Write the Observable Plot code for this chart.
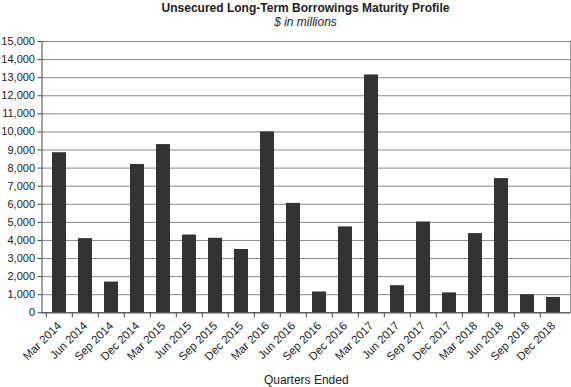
<!DOCTYPE html>
<html>
<head>
<meta charset="utf-8">
<script src="https://cdn.jsdelivr.net/npm/d3@7"></script>
<script src="https://cdn.jsdelivr.net/npm/@observablehq/plot@0.6"></script>
<style>
  html, body { margin: 0; padding: 0; background: #fff; }
  body { width: 571px; height: 387px; overflow: hidden; font-family: "Liberation Sans", Arial, sans-serif; color: #222; }
  #head { padding: 1px 1px 0 41px; text-align: center; height: 27px; }
  #title { font-weight: bold; font-size: 12px; line-height: 14px; }
  #subtitle { font-style: italic; font-size: 12px; line-height: 14px; }
</style>
</head>
<body>
<div id="head">
  <div id="title">Unsecured Long-Term Borrowings Maturity Profile</div>
  <div id="subtitle">$ in millions</div>
</div>
<div id="chart"></div>
<script>
const quarters = [
  "Mar 2014", "Jun 2014", "Sep 2014", "Dec 2014",
  "Mar 2015", "Jun 2015", "Sep 2015", "Dec 2015",
  "Mar 2016", "Jun 2016", "Sep 2016", "Dec 2016",
  "Mar 2017", "Jun 2017", "Sep 2017", "Dec 2017",
  "Mar 2018", "Jun 2018", "Sep 2018", "Dec 2018"
];
const amounts = [
  8850, 4100, 1700, 8200,
  9300, 4300, 4120, 3500,
  10000, 6050, 1150, 4750,
  13150, 1500, 5020, 1100,
  4380, 7420, 1000, 850
];
const yTicks = d3.range(0, 15001, 1000);
const xTitle = "Quarters Ended";

const data = quarters.map((q, i) => ({quarter: q, amount: amounts[i]}));

const W = 571, H = 359;
const mL = 41.5, mR = 1, mT = 13;
const step = (W - mL - mR) / quarters.length;

const chart = Plot.plot({
  width: W,
  height: H,
  marginLeft: mL,
  marginRight: mR,
  marginTop: mT,
  marginBottom: H - mT - 271.3,
  style: {fontFamily: "'Liberation Sans', Arial, sans-serif", fontSize: "11px", color: "#222", background: "#fff"},
  x: {domain: quarters, paddingInner: 0.48, paddingOuter: 0.24, label: null},
  y: {domain: [0, 15000], label: null},
  marks: [
    Plot.ruleY(yTicks, {stroke: "#8a8a8a", strokeWidth: 1}),
    Plot.barY(data, {x: "quarter", y: "amount", fill: "#333333"}),
    Plot.ruleY([0], {stroke: "#444", strokeWidth: 1}),
    Plot.frame({anchor: "left", stroke: "#444"}),
    Plot.frame({anchor: "right", stroke: "#999"}),
    Plot.axisY({ticks: yTicks, tickFormat: d3.format(","), tickSize: 4, tickPadding: 3, stroke: "#444", label: null, fontSize: 11}),
    Plot.axisX({tickSize: 5, text: null, dx: -step / 2, stroke: "#444", label: null}),
    Plot.axisX({tickSize: 0, tickRotate: -45, tickPadding: 11, label: null, fontSize: 11.5}),
    Plot.text([xTitle], {frameAnchor: "bottom", dy: 71, lineAnchor: "bottom", fontSize: 12, fill: "#222"})
  ]
});
document.getElementById("chart").append(chart);
</script>
</body>
</html>
